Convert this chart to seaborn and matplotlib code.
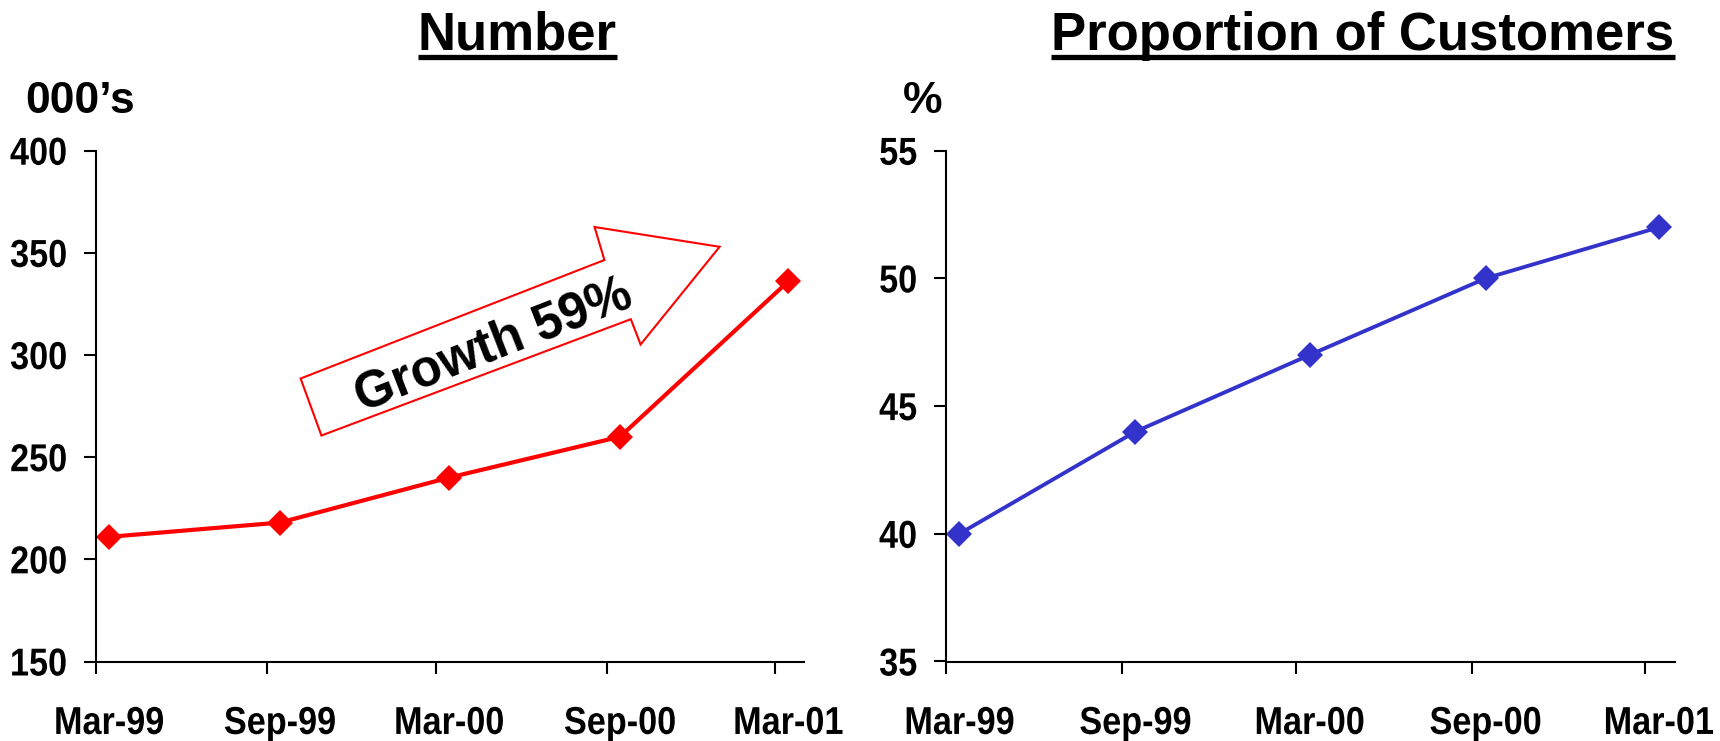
import matplotlib
matplotlib.use("Agg")
import matplotlib.pyplot as plt
from matplotlib import font_manager as fm
from matplotlib.patches import Polygon
from matplotlib.lines import Line2D
from matplotlib.patheffects import AbstractPathEffect
from matplotlib.transforms import Affine2D
import pandas as pd
import seaborn as sns

# ---- data ----
period_labels = ["Mar-99", "Sep-99", "Mar-00", "Sep-00", "Mar-01"]
period_dates = ["1999-03-15", "1999-09-15", "2000-03-15", "2000-09-15", "2001-03-15"]
tick_dates = ["1999-03-01", "1999-09-01", "2000-03-01", "2000-09-01", "2001-03-01"]
customers_000s = [211, 218, 240, 260, 336]
proportion_pct = [40, 44, 47, 50, 52]
growth_label = "Growth 59%"


def pick_font(name):
    try:
        fm.findfont(fm.FontProperties(family=name), fallback_to_default=False)
        return name
    except Exception:
        return None


class Condense(AbstractPathEffect):
    """Squeeze a text's glyphs horizontally about an anchor (narrow face look)."""

    def __init__(self, sx=0.88, anchor="center"):
        super().__init__()
        self.sx = sx
        self.anchor = anchor

    def draw_path(self, renderer, gc, tpath, affine, rgbFace=None):
        ext = tpath.get_extents(affine)
        if self.anchor == "right":
            cx = ext.x1
        elif self.anchor == "left":
            cx = ext.x0
        else:
            cx = 0.5 * (ext.x0 + ext.x1)
        squeeze = Affine2D().translate(-cx, 0).scale(self.sx, 1).translate(cx, 0)
        renderer.draw_path(gc, tpath, affine + squeeze, rgbFace)


sns.set_theme(style="ticks")
plt.rcParams["font.family"] = ["Liberation Sans", "DejaVu Sans"]
NARROW = pick_font("Liberation Sans Narrow")

W, H = 1720, 741
fig = plt.figure(figsize=(W / 100, H / 100), dpi=100)
fig.patch.set_facecolor("white")
ax1 = fig.add_axes([96 / W, 1 - 661.5 / H, 708 / W, 510.8 / H])
ax2 = fig.add_axes([946 / W, 1 - 661.5 / H, 729 / W, 510.8 / H])

df = pd.DataFrame({
    "date": pd.to_datetime(period_dates),
    "number": customers_000s,
    "share": proportion_pct,
})

sns.lineplot(data=df, x="date", y="number", ax=ax1, color="#FF0000", lw=3,
             marker="D", markersize=13, markeredgewidth=0)
sns.lineplot(data=df, x="date", y="share", ax=ax2, color="#3333CC", lw=2.8,
             marker="D", markersize=13, markeredgewidth=0)


def style_axis(ax, lo, hi, step):
    ax.set_xlim(pd.Timestamp("1999-03-01"), pd.Timestamp("2001-04-01"))
    ax.set_ylim(lo, hi)
    ax.set_yticks(list(range(lo, hi + 1, step)))
    ax.set_xticks(pd.to_datetime(period_dates))
    ax.set_xticklabels(period_labels)
    ax.set_xticks(pd.to_datetime(tick_dates), minor=True)
    ax.tick_params(axis="x", which="major", length=0, pad=32)
    ax.tick_params(axis="x", which="minor", length=8.6, width=1.5,
                   direction="out", color="black")
    ax.tick_params(axis="y", which="major", length=8.6, width=1.5,
                   direction="out", color="black", pad=12)
    for lab, anchor in ([(l, "center") for l in ax.get_xticklabels()] +
                        [(l, "right") for l in ax.get_yticklabels()]):
        lab.set_fontweight("bold")
        lab.set_fontsize(28)
        lab.set_color("black")
        if NARROW:
            lab.set_fontfamily(NARROW)
        else:
            lab.set_path_effects([Condense(0.88, anchor)])
    sns.despine(ax=ax)
    for s in ("left", "bottom"):
        ax.spines[s].set_linewidth(1.5)
        ax.spines[s].set_color("black")
    ax.set_xlabel("")
    ax.set_ylabel("")
    ax.set_facecolor("white")


style_axis(ax1, 150, 400, 50)
style_axis(ax2, 35, 55, 5)

# unit labels above the value axes
fig.text(25 / W, 1 - 113 / H, "000\u2019s", ha="left", va="baseline",
         fontsize=32, fontweight="bold", color="black")
fig.text(903 / W, 1 - 113 / H, "%", ha="left", va="baseline",
         fontsize=32, fontweight="bold", color="black")

# growth call-out: outlined block arrow with rotated text
arrow_pts = [(0.3184, 0.4424), (0.2890, 0.5540), (0.7181, 0.7860),
             (0.7042, 0.8506), (0.8808, 0.8119), (0.7692, 0.6206),
             (0.7554, 0.6701)]
ax1.add_patch(Polygon(arrow_pts, closed=True, transform=ax1.transAxes,
                      facecolor="white", edgecolor="#FF0000", lw=1.5,
                      clip_on=False, zorder=1))
ax1.text(0.5620, 0.6190, growth_label, transform=ax1.transAxes,
         rotation=21.3, rotation_mode="anchor", ha="center", va="center",
         fontsize=36.5, fontweight="bold", color="black", zorder=3)

# underlined panel titles
t1 = fig.text(517 / W, 1 - 50 / H, "Number", ha="center", va="baseline",
              fontsize=38, fontweight="bold", color="black")
t2 = fig.text(1363 / W, 1 - 50 / H, "Proportion of Customers", ha="center",
              va="baseline", fontsize=38, fontweight="bold", color="black")
fig.canvas.draw()
renderer = fig.canvas.get_renderer()
for t in (t1, t2):
    bb = t.get_window_extent(renderer)
    y = 1 - 57 / H
    fig.add_artist(Line2D([bb.x0 / W, bb.x1 / W], [y, y],
                          transform=fig.transFigure, color="black", lw=3.8,
                          solid_capstyle="butt"))

fig.savefig("out.png", dpi=100, facecolor="white")
